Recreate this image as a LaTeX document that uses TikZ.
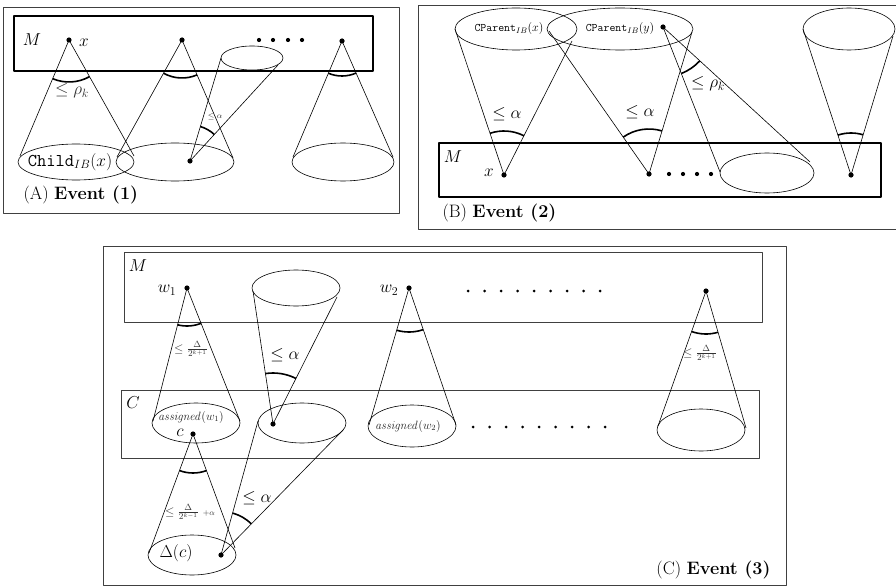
\documentclass[tikz,border=0pt]{standalone}
\usetikzlibrary{calc}
\newcommand{\conearc}[4]{\draw[arcst] let \p1=($(#2)-(#1)$), \p2=($(#3)-(#1)$), \n1={atan2(\y1,\x1)}, \n2={atan2(\y2,\x2)} in ($(#1)+(\n1:#4pt)$) arc[start angle=\n1, end angle=\n2, radius=#4pt];}
\begin{document}
\begin{tikzpicture}[x=1pt,y=1pt,line join=round,
  cone/.style={line width=0.6pt},
  arcst/.style={line width=1.6pt},
  panelframe/.style={draw=black!75,line width=0.8pt},
  thickbox/.style={draw=black,line width=1.8pt},
  thinbox/.style={draw=black!75,line width=0.7pt},
  ell/.style={line width=0.6pt},
  big/.style={font=\fontsize{18}{21}\selectfont},
  small/.style={font=\fontsize{11.5}{13}\selectfont},
  tinyl/.style={font=\footnotesize,text=black!80},
  fracl/.style={font=\fontsize{12.5}{14}\selectfont,text=black!80},
  asl/.style={font=\fontsize{11.5}{13}\selectfont,text=black!85}]
\useasboundingbox (0,0) rectangle (896,-588);

%%%%%%%%%%%%%%%% Panel A
\draw[panelframe] (3,-7) rectangle (399,-213);
\draw[thickbox] (14,-16) rectangle (373,-71);
\coordinate (a1) at (69,-40);  \coordinate (a1l) at (20,-156); \coordinate (a1r) at (134,-156);
\coordinate (eA1) at (76,-162);
\coordinate (a2) at (182,-40); \coordinate (a2l) at (117,-157); \coordinate (a2r) at (233,-158);
\coordinate (eA2) at (175,-162);
\coordinate (a3) at (190,-161); \coordinate (a3l) at (221,-58); \coordinate (a3r) at (278,-65);
\coordinate (eA3) at (252,-58);
\coordinate (a4) at (342,-41); \coordinate (a4l) at (293,-157); \coordinate (a4r) at (393,-157);
\coordinate (eA4) at (343,-162);
\draw[cone] (a1l) -- (a1) -- (a1r);
\draw[cone] (a2l) -- (a2) -- (a2r);
\draw[cone] (a3l) -- (a3) -- (a3r);
\draw[cone] (a4l) -- (a4) -- (a4r);
\draw[ell] (eA1) ellipse [x radius=58, y radius=18];
\draw[ell] (eA2) ellipse [x radius=59, y radius=19];
\draw[ell] (eA3) ellipse [x radius=31, y radius=12];
\draw[ell] (eA4) ellipse [x radius=51, y radius=19];
\conearc{a1}{a1l}{a1r}{42}
\conearc{a2}{a2l}{a2r}{38}
\conearc{a3}{a3l}{a3r}{36}
\conearc{a4}{a4l}{a4r}{35}
\foreach \p in {a1,a2,a3,a4} \fill (\p) circle (2.6);
\foreach \xx in {259,273,288,302} \fill (\xx,-40) circle (2.1);
\node[big] (MA) at (32,-40) {$M$};
\node[big] (xA) at (84,-43) {$x$};
\node[big] (childA) at (70,-162) {$\texttt{Child}_{IB}(x)$};
\node[big,text=black!80] (rhoA) at (72,-91) {$\le \rho_k$};
\node[tinyl] (alA) at (215,-117) {$\le\alpha$};
\node[big,anchor=west] (capA) at (20,-195) {(A) \textbf{Event (1)}};

%%%%%%%%%%%%%%%% Panel B
\draw[panelframe] (418,-5) rectangle (900,-229);
\draw[thickbox] (439,-143) rectangle (881,-197);
\coordinate (b1) at (504,-175); \coordinate (b1l) at (455,-29); \coordinate (b1r) at (572,-41);
\coordinate (eB1) at (516,-29);
\coordinate (b2) at (649,-174); \coordinate (b2l) at (549,-31); \coordinate (b2r) at (692,-32);
\coordinate (eB2) at (620,-29);
\coordinate (b3) at (663,-27); \coordinate (b3l) at (720,-172); \coordinate (b3r) at (810,-162);
\coordinate (eB3) at (767,-173);
\coordinate (b4) at (851,-175); \coordinate (b4l) at (803,-29); \coordinate (b4r) at (893,-36);
\coordinate (eB4) at (849,-29);
\draw[cone] (b1l) -- (b1) -- (b1r);
\draw[cone] (b2l) -- (b2) -- (b2r);
\draw[cone] (b3l) -- (b3) -- (b3r);
\draw[cone] (b4l) -- (b4) -- (b4r);
\draw[ell] (eB1) ellipse [x radius=61, y radius=21];
\draw[ell] (eB2) ellipse [x radius=73, y radius=21];
\draw[ell] (eB3) ellipse [x radius=47, y radius=20];
\draw[ell] (eB4) ellipse [x radius=46, y radius=21];
\conearc{b1}{b1l}{b1r}{44}
\conearc{b2}{b2l}{b2r}{45}
\conearc{b3}{b3l}{b3r}{50}
\conearc{b4}{b4l}{b4r}{42}
\foreach \p in {b1,b2,b3,b4} \fill (\p) circle (2.6);
\foreach \xx in {669,683,697,711} \fill (\xx,-174) circle (2.1);
\node[big] (MB) at (453,-157) {$M$};
\node[big] (xB) at (489,-173) {$x$};
\node[small] (cpx) at (509,-29) {$\texttt{CParent}_{IB}(x)$};
\node[small] (cpy) at (620,-29) {$\texttt{CParent}_{IB}(y)$};
\node[big] (alB1) at (507,-114) {$\le \alpha$};
\node[big] (alB2) at (640,-112) {$\le \alpha$};
\node[big] (rhoB) at (708,-84) {$\le \rho_k$};
\node[big,anchor=west] (capB) at (439,-213) {(B) \textbf{Event (2)}};

%%%%%%%%%%%%%%%% Panel C
\draw[panelframe] (103,-246) rectangle (786,-585);
\draw[thinbox] (124,-252) rectangle (762,-322);
\draw[thinbox] (121,-390) rectangle (759,-458);
\coordinate (w1) at (187,-288); \coordinate (w1l) at (153,-421); \coordinate (w1r) at (240,-421);
\coordinate (eC1) at (196,-423);
\coordinate (eC2) at (296,-288);
\coordinate (c2) at (273,-424); \coordinate (c2l) at (253,-291); \coordinate (c2r) at (337,-297);
\coordinate (eC3) at (302,-423);
\coordinate (cc) at (193,-434); \coordinate (ccl) at (149,-553); \coordinate (ccr) at (235,-548);
\coordinate (eC4) at (192,-555);
\coordinate (dd) at (221,-555); \coordinate (ddl) at (258,-421); \coordinate (ddr) at (343,-430);
\coordinate (w2) at (409,-288); \coordinate (w2l) at (369,-425); \coordinate (w2r) at (456,-425);
\coordinate (eC5) at (412,-426);
\coordinate (w3) at (706,-291); \coordinate (w3l) at (658,-426); \coordinate (w3r) at (746,-428);
\coordinate (eC6) at (701,-430);
\draw[cone] (w1l) -- (w1) -- (w1r);
\draw[cone] (c2l) -- (c2) -- (c2r);
\draw[cone] (ccl) -- (cc) -- (ccr);
\draw[cone] (ddl) -- (dd) -- (ddr);
\draw[cone] (w2l) -- (w2) -- (w2r);
\draw[cone] (w3l) -- (w3) -- (w3r);
\draw[ell] (eC1) ellipse [x radius=44, y radius=20];
\draw[ell] (eC2) ellipse [x radius=44, y radius=18];
\draw[ell] (eC3) ellipse [x radius=44, y radius=20];
\draw[ell] (eC4) ellipse [x radius=44, y radius=20];
\draw[ell] (eC5) ellipse [x radius=44, y radius=21];
\draw[ell] (eC6) ellipse [x radius=44, y radius=21];
\conearc{w1}{w1l}{w1r}{38}
\conearc{c2}{c2l}{c2r}{51}
\conearc{cc}{ccl}{ccr}{39}
\conearc{dd}{ddl}{ddr}{43.5}
\conearc{w2}{w2l}{w2r}{44}
\conearc{w3}{w3l}{w3r}{43}
\foreach \p in {w1,c2,cc,dd,w2,w3} \fill (\p) circle (2.6);
\foreach \i in {0,...,8} \fill ({468+16.5*\i},-291) circle (1.5);
\foreach \i in {0,...,8} \fill ({473+16.5*\i},-427) circle (1.5);
\node[big] (MC) at (138,-266) {$M$};
\node[big] (CC) at (133,-403) {$C$};
\node[big] (w1t) at (167,-290) {$w_1$};
\node[big] (w2t) at (389,-290) {$w_2$};
\node[fracl] (f1) at (191,-349) {$\le \frac{\Delta}{2^{k+1}}$};
\node[fracl] (f2) at (700,-353) {$\le \frac{\Delta}{2^{k+1}}$};
\node[fracl] (f3) at (190,-512) {$\le \frac{\Delta}{2^{k-1}}$ {\footnotesize$+\alpha$}};
\node[big] (alC1) at (285,-355) {$\le \alpha$};
\node[big] (alC2) at (257,-498) {$\le \alpha$};
\node[asl,inner sep=1pt] (as1) at (191,-417) {$\mathit{assigned}(w_1)$};
\node[asl] (as2) at (408,-426) {$\mathit{assigned}(w_2)$};
\node[big,inner sep=1pt] (ct) at (180,-433) {$c$};
\node[big] (Dc) at (176,-553) {$\Delta(c)$};
\node[big,anchor=east] (capC) at (774,-570) {(C) \textbf{Event (3)}};
\end{tikzpicture}
\end{document}
